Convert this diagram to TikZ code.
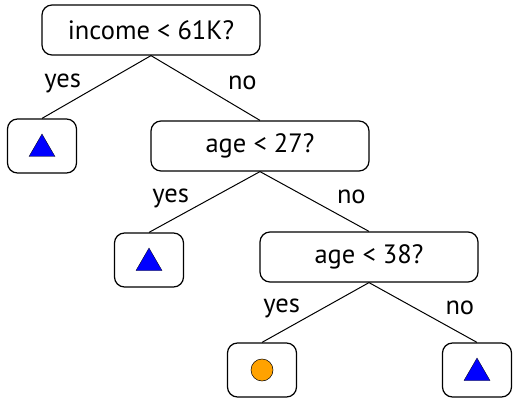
\documentclass[tikz,border=0pt]{standalone}
\usepackage{fontspec}
\setmainfont{PT Sans}
\usepackage{xcolor}
\usetikzlibrary{shapes.geometric}
\definecolor{ink}{HTML}{000000}
\definecolor{leafblue}{HTML}{0000FF}
\definecolor{leaforange}{HTML}{FFA200}
\tikzset{
  box/.style={rounded corners=10pt,draw=ink,fill=white,line width=1.2pt,
              inner sep=0pt,align=center,text=ink,font=\fontsize{26.5}{30}\selectfont},
  testbox/.style={box,minimum width=218pt,minimum height=50pt},
  leafbox/.style={box,minimum width=69pt,minimum height=54pt},
  branch/.style={line width=1pt,draw=ink},
  yeslab/.style={midway,anchor=east,xshift=-15pt,yshift=4pt,inner sep=0pt,
                 font=\fontsize{26.5}{30}\selectfont},
  nolab/.style={midway,anchor=west,xshift=22pt,yshift=5pt,inner sep=0pt,
                font=\fontsize{26.5}{30}\selectfont},
  tri/.style={regular polygon,regular polygon sides=3,fill=leafblue,draw=ink,
              line width=0.3pt,inner sep=0pt,minimum size=30pt},
  dot/.style={circle,fill=leaforange,draw=ink,line width=0.5pt,inner sep=0pt,
              minimum size=22pt}
}
\begin{document}
\begin{tikzpicture}[x=1pt,y=-1pt]
  \useasboundingbox (0,0) rectangle (517,401);
  % tests
  \node[testbox] (income) at (151,30) {income < 61K?};
  \node[testbox] (age27) at (260,146) {age < 27?};
  \node[testbox] (age38) at (369,257) {age < 38?};
  % leaves
  \node[leafbox] (leafA) at (42,146) {};
  \node[leafbox] (leafB) at (149,260) {};
  \node[leafbox] (leafC) at (262,370) {};
  \node[leafbox] (leafD) at (477,370) {};
  \node[tri] (triA) at ([yshift=-3pt]leafA.center) {};
  \node[tri] (triB) at ([yshift=-3pt]leafB.center) {};
  \node[dot] (dotC) at (leafC.center) {};
  \node[tri] (triD) at ([yshift=-3pt]leafD.center) {};
  % branches
  \draw[branch] (income.south) -- node[yeslab] {yes} (leafA.north);
  \draw[branch] (income.south) -- node[nolab] {no} (age27.north);
  \draw[branch] (age27.south) -- node[yeslab] {yes} (leafB.north);
  \draw[branch] (age27.south) -- node[nolab] {no} (age38.north);
  \draw[branch] (age38.south) -- node[yeslab] {yes} (leafC.north);
  \draw[branch] (age38.south) -- node[nolab] {no} (leafD.north);
\end{tikzpicture}
\end{document}
